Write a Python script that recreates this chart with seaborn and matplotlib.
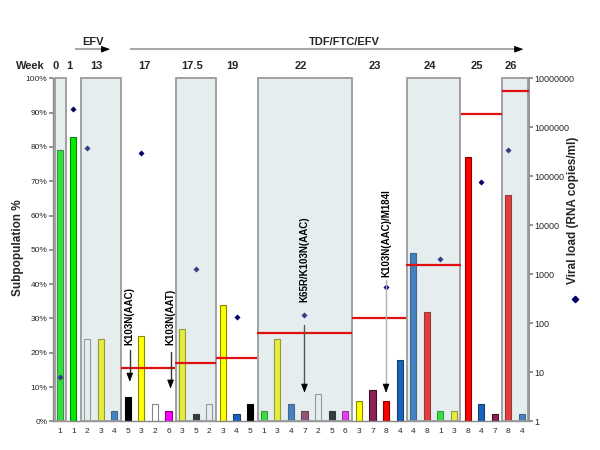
import numpy as np
import pandas as pd
import matplotlib
matplotlib.use("Agg")
import matplotlib.pyplot as plt
from matplotlib.patches import Rectangle
from matplotlib.lines import Line2D
from matplotlib.ticker import NullLocator
import seaborn as sns

# ---------------- data ----------------
weeks = ['0', '1', '13', '17', '17.5', '19', '22', '23', '24', '25', '26']
group_sizes = [1, 1, 3, 4, 3, 3, 7, 4, 4, 3, 2]
variant = [1, 1, 2, 3, 4, 5, 3, 2, 6, 3, 5, 2, 3, 4, 5, 1, 3, 4, 7, 2, 5, 6,
           3, 7, 8, 4, 4, 8, 1, 3, 8, 4, 7, 8, 4]
subpop_pct = [79, 83, 24, 24, 3, 7, 25, 5, 3, 27, 2, 5, 34, 2, 5, 3, 24, 5, 3, 8,
              3, 3, 6, 9, 6, 18, 49, 32, 3, 3, 77, 5, 2, 66, 2]
viral_load = [8, 2.4e6, 3.8e5, 3.0e5, 1290, 136, 147, 550, 2090, 7.5e4, 3.5e5]
viral_slot = [0, 0, 0, 1, 1, 1, 3, 2, 2, 1, 0]
shaded_weeks = ['0', '13', '17.5', '22', '24', '26']
red_weeks = ['17', '17.5', '19', '22', '23', '24', '25', '26']
red_pct = [15.6, 17.1, 18.5, 25.8, 30.1, 45.7, 89.7, 96.4]
mutations = ['K103N(AAC)', 'K103N(AAT)', 'K65R/K103N(AAC)', 'K103N(AAC)/M184I']
mutation_bar = [5, 8, 18, 24]

variant_fill = {1: '#00ee00', 2: '#ffffff', 3: '#ffff00', 4: '#1565c0',
                5: '#000000', 6: '#ff00ff', 7: '#8a2257', 8: '#ff0000'}
variant_edge = {1: '#117711', 2: '#888888', 3: '#888800', 4: '#1d3c66',
                5: '#000000', 6: '#880088', 7: '#441122', 8: '#880000'}

# ---------------- derived ----------------
starts = np.concatenate([[0], np.cumsum(group_sizes)[:-1]])
ends = starts + np.array(group_sizes) - 1
n = len(variant)
df = pd.DataFrame({'pos': np.arange(n), 'pct': subpop_pct,
                   'key': [str(i) for i in range(n)]})
palette = {str(i): variant_fill[v] for i, v in enumerate(variant)}
vl_df = pd.DataFrame({'pos': starts + np.array(viral_slot), 'vl': viral_load})

sns.set_theme(style='white')
plt.rcParams['font.family'] = ['Liberation Sans', 'DejaVu Sans']

fig = plt.figure(figsize=(6, 4.5), dpi=100)
ax = fig.add_axes([0.0883, 0.0638, 0.7930, 0.762])
ax2 = ax.twinx()

sns.barplot(data=df, x='pos', y='pct', hue='key', palette=palette,
            native_scale=True, width=0.45, dodge=False, legend=False,
            saturation=1, ax=ax)
for p in ax.patches:
    i = int(round(p.get_x() + p.get_width() / 2))
    p.set_edgecolor(variant_edge[variant[i]])
    p.set_linewidth(0.8)

sns.scatterplot(data=vl_df, x='pos', y='vl', marker='D', color='#000066',
                edgecolor='#000066', s=8, ax=ax2, zorder=3)

# shaded boxes (semi transparent overlay)
for wk in shaded_weeks:
    g = weeks.index(wk)
    x0 = max(starts[g] - 0.45, -0.32)
    x1 = ends[g] + 0.47
    ax2.add_patch(Rectangle((x0, 0), x1 - x0, 1.0,
                            transform=ax2.get_xaxis_transform(),
                            facecolor=(0.673, 0.777, 0.803, 0.3),
                            edgecolor='#9a9a9a', linewidth=1.3, zorder=4,
                            clip_on=False))

# red lines
for wk, v in zip(red_weeks, red_pct):
    g = weeks.index(wk)
    x0 = starts[g] - 0.5
    x1 = min(ends[g] + 0.5, n - 0.5)
    ax2.plot([x0, x1], [v, v], transform=ax.transData, color='#e01010',
             lw=1.6, zorder=5, solid_capstyle='butt')

# mutation annotations
ann_style = [(22.3, 20.8, 11.5, '#333333'), (22.3, 20.3, 9.5, '#333333'),
             (34.9, 28.1, 8.3, '#555555'), (42.0, 41.2, 8.3, '#b0b0b0')]
for lab, bi, (ty, ay0, ay1, sc) in zip(mutations, mutation_bar, ann_style):
    xx = bi + 0.15 if bi < 10 else bi
    ax2.text(xx, ty, lab, transform=ax.transData, rotation=90, ha='center',
             va='bottom', fontsize=7, fontweight='bold', color='black', zorder=6)
    ax2.plot([xx, xx], [ay0, ay1 + 2.0], transform=ax.transData, color=sc,
             lw=1.0, zorder=6)
    ax2.annotate('', xy=(xx, ay1), xytext=(xx, ay1 + 2.5), xycoords=ax.transData,
                 textcoords=ax.transData,
                 arrowprops=dict(arrowstyle='-|>,head_width=0.17,head_length=0.45',
                                 fc='black', ec='black', lw=0.6,
                                 shrinkA=0, shrinkB=0),
                 zorder=7)

# week labels on top
xt = ax.get_xaxis_transform()
for g, wk in enumerate(weeks):
    cx = (starts[g] + ends[g]) / 2 - 0.3
    ax2.text(cx, 1.037, wk, transform=xt, ha='center', va='center',
             fontsize=8, fontweight='bold', clip_on=False)
ax2.text(-2.15, 1.037, 'Week', transform=xt, ha='center', va='center',
         fontsize=8, fontweight='bold', clip_on=False)
ax2.text(2.45, 1.107, 'EFV', transform=xt, ha='center', va='center',
         fontsize=8, fontweight='bold', clip_on=False)
ax2.text(20.96, 1.107, 'TDF/FTC/EFV', transform=xt, ha='center', va='center',
         fontsize=8, fontweight='bold', clip_on=False)
for xa, xb in [(1.1, 3.7), (5.15, 34.1)]:
    ax2.plot([xa, xb - 0.5], [1.085, 1.085], transform=xt, color='#a8a8a8',
             lw=1.5, clip_on=False, solid_capstyle='butt')
    ax2.annotate('', xy=(xb, 1.085), xytext=(xb - 0.6, 1.085), xycoords=xt,
                 textcoords=xt, annotation_clip=False,
                 arrowprops=dict(arrowstyle='-|>,head_width=0.17,head_length=0.45',
                                 fc='black', ec='black', lw=0.6,
                                 shrinkA=0, shrinkB=0))

# axes formatting
ax.set_xlim(-0.5, n - 0.5)
ax.set_ylim(0, 100)
ax.set_xticks(range(n))
ax.set_xticklabels([str(v) for v in variant], fontsize=6)
ax.set_xticks(np.arange(-0.5, n, 1.0), minor=True)
ax.tick_params(axis='x', which='major', length=0, pad=5)
ax.tick_params(axis='x', which='minor', length=3, color='#888888', direction='out')
ax.set_yticks(range(0, 101, 10))
ax.set_yticklabels([f'{v}%' for v in range(0, 101, 10)], fontsize=6)
ax.tick_params(axis='y', length=3, color='#888888', direction='out', pad=1,
               left=True)
ax.set_xlabel('')
ax.set_ylabel('')
for s in ['top', 'right']:
    ax.spines[s].set_visible(False)
for s in ['left', 'bottom']:
    ax.spines[s].set_color('#888888')
    ax.spines[s].set_linewidth(1.0)

ax2.set_yscale('log')
ax2.set_ylim(1, 1e7)
ticks = [10 ** k for k in range(8)]
ax2.set_yticks(ticks)
ax2.set_yticklabels([str(t) for t in ticks], fontsize=6.5)
ax2.yaxis.set_minor_locator(NullLocator())
ax2.tick_params(axis='y', length=3, color='#888888', direction='out', pad=1,
                right=True)
ax2.set_ylabel('')
ax2.set_xlabel('')
for s in ['top', 'left', 'bottom']:
    ax2.spines[s].set_visible(False)
ax2.spines['right'].set_color('#888888')
ax2.set_xlim(-0.5, n - 0.5)

fig.text(0.03, 0.449, 'Subpopulation %', rotation=90, ha='center', va='center',
         fontsize=8.5, fontweight='bold')
fig.text(0.955, 0.533, 'Viral load (RNA copies/ml)', rotation=90, ha='center',
         va='center', fontsize=8.5, fontweight='bold')
fig.add_artist(Line2D([0.958], [0.335], transform=fig.transFigure, marker='D',
                      color='#000066', markersize=3.2, linestyle='none'))

fig.savefig('out.png', dpi=100)
